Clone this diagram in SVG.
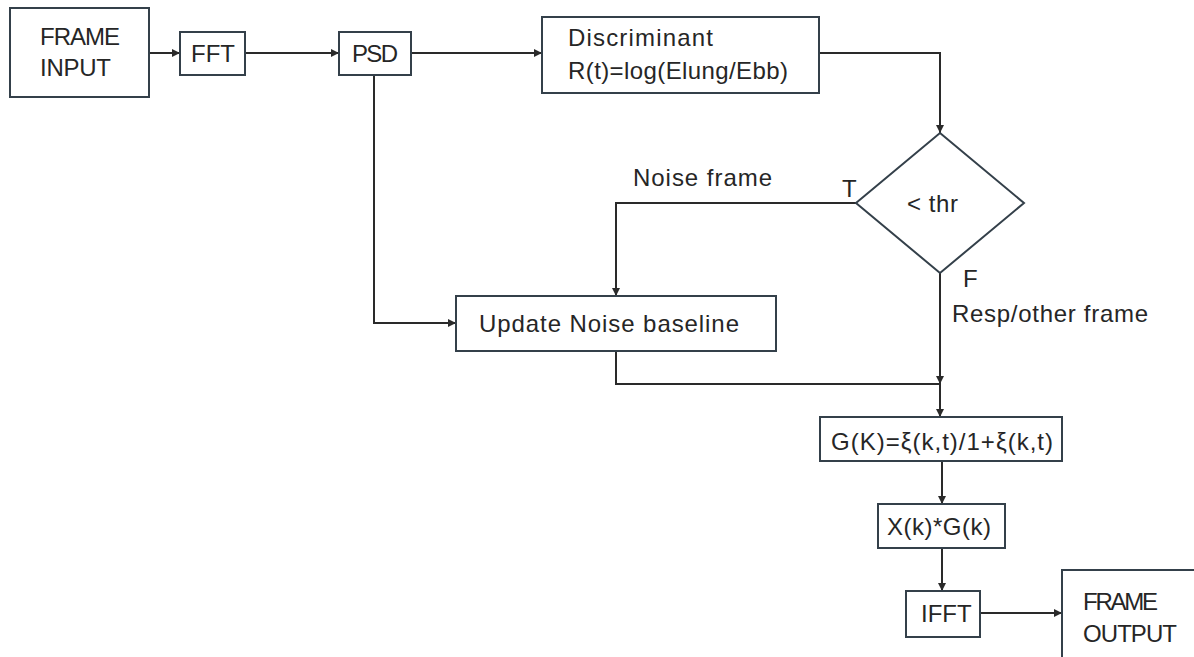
<svg xmlns="http://www.w3.org/2000/svg" width="1194" height="657" viewBox="0 0 1194 657">
<style>
.box{fill:#fff;stroke:#34404a;stroke-width:2}
.ln{fill:none;stroke:#2a2a2a;stroke-width:2}
.t{font-family:"Liberation Sans",Arial,sans-serif;font-size:24px;fill:#262626}
</style>
<defs>
<marker id="ah" viewBox="0 0 10 10" refX="10" refY="5" markerWidth="8" markerHeight="8" markerUnits="userSpaceOnUse" orient="auto">
<path d="M0,0 L10,5 L0,10 z" fill="#2a2a2a"/>
</marker>
</defs>
<rect width="1194" height="657" fill="#fff"/>
<g id="connectors">
<path class="ln" d="M149,53 H180" marker-end="url(#ah)"/>
<path class="ln" d="M245,53 H339" marker-end="url(#ah)"/>
<path class="ln" d="M411,53 H542" marker-end="url(#ah)"/>
<path class="ln" d="M819,53 H940 V133" marker-end="url(#ah)"/>
<path class="ln" d="M856,203 H616 V296" marker-end="url(#ah)"/>
<path class="ln" d="M374,75 V323 H456" marker-end="url(#ah)"/>
<path class="ln" d="M940,273 V384" marker-end="url(#ah)"/>
<path class="ln" d="M616,351 V384 H940"/>
<path class="ln" d="M940,384 V417" marker-end="url(#ah)"/>
<path class="ln" d="M942,461 V504" marker-end="url(#ah)"/>
<path class="ln" d="M942,548 V591" marker-end="url(#ah)"/>
<path class="ln" d="M980,613 H1062" marker-end="url(#ah)"/>
</g>
<g id="frame-input">
<rect class="box" x="10" y="8" width="139" height="89"/>
<text class="t" x="40" y="45" textLength="80">FRAME</text>
<text class="t" x="40" y="76" textLength="71">INPUT</text>
</g>
<g id="fft">
<rect class="box" x="180" y="32" width="65" height="43"/>
<text class="t" x="191" y="62">FFT</text>
</g>
<g id="psd">
<rect class="box" x="339" y="32" width="72" height="43"/>
<text class="t" x="352" y="62" textLength="46">PSD</text>
</g>
<g id="discriminant">
<rect class="box" x="542" y="17" width="277" height="76"/>
<text class="t" x="568" y="46" textLength="145">Discriminant</text>
<text class="t" x="568" y="79" textLength="220">R(t)=log(Elung/Ebb)</text>
</g>
<g id="threshold">
<polygon class="box" points="940,133 1024,203 940,273 856,203"/>
<text class="t" x="907" y="212" textLength="51">&lt; thr</text>
</g>
<g id="labels">
<text class="t" x="633" y="186" textLength="139">Noise frame</text>
<text class="t" x="842" y="197">T</text>
<text class="t" x="963" y="287">F</text>
<text class="t" x="952" y="322" textLength="196">Resp/other frame</text>
</g>
<g id="update-noise">
<rect class="box" x="456" y="296" width="320" height="55"/>
<text class="t" x="479" y="332" textLength="260">Update Noise baseline</text>
</g>
<g id="gain">
<rect class="box" x="820" y="417" width="242" height="44"/>
<text class="t" x="831" y="450" textLength="222">G(K)=ξ(k,t)/1+ξ(k,t)</text>
</g>
<g id="multiply">
<rect class="box" x="878" y="504" width="127" height="44"/>
<text class="t" x="887" y="535" textLength="104">X(k)*G(k)</text>
</g>
<g id="ifft">
<rect class="box" x="906" y="591" width="74" height="46"/>
<text class="t" x="921" y="622">IFFT</text>
</g>
<g id="frame-output">
<rect class="box" x="1062" y="570" width="160" height="100"/>
<text class="t" x="1083" y="610" textLength="75">FRAME</text>
<text class="t" x="1083" y="642" textLength="94">OUTPUT</text>
</g>
</svg>
